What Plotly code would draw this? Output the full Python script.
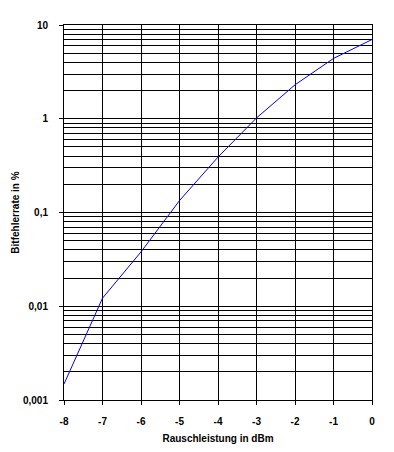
import plotly.graph_objects as go

noise_dbm = [-8, -7, -6, -5, -4, -3, -2, -1, 0]
ber_percent = [0.00148, 0.0122, 0.038, 0.134, 0.39, 1.02, 2.3, 4.4, 7.0]

y_tick_vals = [0.001, 0.01, 0.1, 1, 10]
y_tick_text = ["0,001", "0,01", "0,1", "1", "10"]
x_tick_vals = [-8, -7, -6, -5, -4, -3, -2, -1, 0]
x_tick_text = ["-8", "-7", "-6", "-5", "-4", "-3", "-2", "-1", "0"]

minor_vals = [m * d for d in [0.001, 0.01, 0.1, 1] for m in range(2, 10)]

font = dict(family="Arial, Liberation Sans, sans-serif", size=10, color="black", weight="bold")

fig = go.Figure()
fig.add_trace(go.Scatter(x=noise_dbm, y=ber_percent, mode="lines",
                         line=dict(color="#0000ff", width=1), showlegend=False))

fig.update_layout(
    width=386, height=444,
    margin=dict(l=56, r=22, t=17, b=52),
    paper_bgcolor="white", plot_bgcolor="white",
    font=font,
    xaxis=dict(
        range=[-8, 0], tickvals=x_tick_vals, ticktext=x_tick_text,
        showgrid=True, gridcolor="black", gridwidth=1,
        showline=True, linecolor="black", linewidth=1, mirror=True,
        ticks="outside", ticklen=4, tickcolor="black", automargin=False,
        tickfont=font, zeroline=False, ticklabelstandoff=8,
        title=dict(text="Rauschleistung in dBm", font=font, standoff=8),
    ),
    yaxis=dict(
        type="log", range=[-3, 1], tickvals=y_tick_vals, ticktext=y_tick_text,
        showgrid=True, gridcolor="black", gridwidth=1,
        showline=True, linecolor="black", linewidth=1, mirror=True,
        ticks="outside", ticklen=4, tickcolor="black", automargin=False,
        tickfont=font, zeroline=False, ticklabelstandoff=9,
        minor=dict(tickvals=minor_vals, showgrid=True, gridcolor="black", gridwidth=1, ticks=""),
        title=dict(text="Bitfehlerrate in %", font=font, standoff=1),
    ),
)

fig.write_html("out.html")
